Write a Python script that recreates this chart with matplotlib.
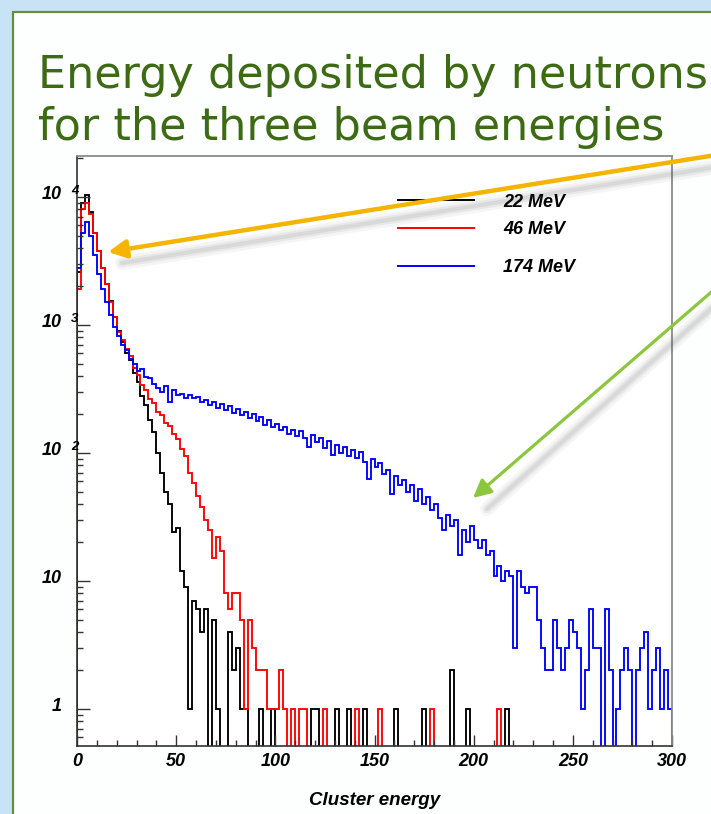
import numpy as np
import matplotlib
matplotlib.use("Agg")
import matplotlib.pyplot as plt
from matplotlib.patches import FancyArrowPatch, Rectangle
from matplotlib.ticker import MultipleLocator, LogLocator, NullFormatter

# cluster energy histograms, 2 units per bin from 0 to 300
bin_width = 2
edges = np.arange(0, 300 + bin_width, bin_width)

counts_22 = [
    2600, 9000, 10400, 7600, 5200, 3800, 2800, 2100, 1550, 1150,
    900, 740, 600, 530, 420, 360, 280, 235, 180, 145,
    100, 70, 50, 40, 24, 26, 12, 9, 1, 7,
    6, 4, 6, 0, 5, 1, 0, 0, 4, 2,
    3, 1, 1, 0, 0, 0, 1, 0, 0, 1,
    0, 0, 0, 0, 0, 0, 0, 0, 0, 1,
    1, 0, 0, 0, 0, 1, 0, 0, 1, 0,
    0, 0, 1, 0, 0, 0, 0, 0, 0, 0,
    1, 0, 0, 0, 0, 0, 0, 1, 0, 0,
    0, 0, 0, 0, 2, 0, 0, 0, 1, 0,
    0, 0, 0, 0, 0, 0, 0, 0, 1, 0,
    0, 0, 0, 0, 0, 0, 0, 0, 0, 0,
    0, 0, 0, 0, 0, 0, 0, 0, 0, 0,
    0, 0, 0, 0, 0, 0, 0, 0, 0, 0,
    0, 0, 0, 0, 0, 0, 0, 0, 0, 0,
]

counts_46 = [
    1900, 8000, 8900, 7400, 5200, 3800, 2800, 2100, 1500, 1150,
    880, 770, 650, 570, 460, 410, 340, 310, 262, 245,
    210, 198, 170, 163, 140, 128, 108, 95, 70, 58,
    46, 38, 30, 25, 15, 22, 17, 8, 6, 8,
    8, 5, 1, 5, 3, 2, 2, 2, 1, 1,
    1, 2, 1, 0, 1, 0, 1, 1, 0, 0,
    0, 0, 1, 0, 0, 0, 0, 0, 0, 0,
    1, 0, 0, 0, 0, 0, 1, 0, 0, 0,
    0, 0, 0, 0, 0, 0, 0, 0, 0, 1,
    0, 0, 0, 0, 0, 0, 0, 0, 0, 0,
    0, 0, 0, 0, 0, 0, 1, 0, 0, 0,
    0, 0, 0, 0, 0, 0, 0, 0, 0, 0,
    0, 0, 0, 0, 0, 0, 0, 0, 0, 0,
    0, 0, 0, 0, 0, 0, 0, 0, 0, 0,
    0, 0, 0, 0, 0, 0, 0, 0, 0, 0,
]

counts_174 = [
    2800, 5200, 6400, 5000, 3500, 2500, 1900, 1500, 1200, 970,
    820, 700, 640, 540, 500, 440, 450, 390, 385, 345,
    320, 300, 335, 250, 310, 285, 290, 270, 285, 268,
    275, 250, 258, 238, 252, 226, 240, 215, 232, 205,
    222, 198, 210, 188, 203, 178, 192, 165, 180, 160,
    168, 150, 160, 140, 152, 135, 148, 130, 112, 138,
    122, 130, 110, 124, 96, 115, 100, 112, 95, 105,
    92, 102, 85, 63, 90, 78, 84, 68, 74, 48,
    66, 56, 62, 50, 56, 42, 52, 40, 45, 36,
    40, 31, 25, 33, 27, 30, 16, 25, 20, 27,
    21, 18, 21, 16, 17, 11, 13, 10, 12, 11,
    3, 12, 9, 8, 9, 9, 5, 3, 2, 2,
    5, 3, 2, 3, 5, 4, 3, 1, 2, 6,
    3, 3, 0, 6, 2, 0, 1, 2, 3, 2,
    0, 2, 3, 4, 1, 2, 3, 1, 2, 1,
]

series = [counts_22, counts_46, counts_174]
labels = ["22 MeV", "46 MeV", "174 MeV"]
colors = ["black", "#ff0000", "#0000ff"]

x_ticks = [0, 50, 100, 150, 200, 250, 300]
y_ticks = [1, 10, 100, 1000, 10000]
y_bases = ["1", "10", "10", "10", "10"]
y_powers = ["", "", "2", "3", "4"]

W, H = 711, 814
title_color = "#3d6b14"
root_font = dict(family="Liberation Sans", weight="bold", style="italic")

fig = plt.figure(figsize=(W / 100, H / 100), dpi=100, facecolor="#c8e3f6")

# slide panel with green border
panel = Rectangle((13 / W, -0.1), 1.2, 1 - 12 / H + 0.1, transform=fig.transFigure,
                  facecolor="#fdfefe", edgecolor="#6a8c3a", lw=1.6, zorder=-10)
fig.patches.append(panel)

fig.text(38 / W, 1 - 88 / H, "Energy deposited by neutrons", fontsize=32,
         color=title_color, va="baseline", ha="left")
fig.text(38 / W, 1 - 140 / H, "for the three beam energies", fontsize=32,
         color=title_color, va="baseline", ha="left")

ax = fig.add_axes([77 / W, 1 - 746 / H, (672 - 77) / W, (746 - 156) / H])
ax.set_facecolor("white")
ax.set_yscale("log")
ax.set_xlim(0, 300)
ax.set_ylim(0.514, 2.09e4)

floor = 0.05
for counts, color in zip(series, colors):
    c = np.asarray(counts, dtype=float)
    c = np.where(c > 0, c, floor)
    ax.stairs(c, edges, baseline=floor, color=color, lw=1.35)

# legend drawn ROOT-style without a box
leg_y = [0.925, 0.878, 0.8136]
for y, lab, color in zip(leg_y, labels, colors):
    ax.plot([0.539, 0.667], [y, y], transform=ax.transAxes, color=color, lw=1.4)
    ax.text(0.716, y - 0.003, lab, transform=ax.transAxes, ha="left", va="center",
            fontsize=13, **root_font)

# axes in ROOT style
for side in ["top", "right"]:
    ax.spines[side].set_color("#8a8a8a")
    ax.spines[side].set_linewidth(1.3)
for side in ["left", "bottom"]:
    ax.spines[side].set_color("#333333")
    ax.spines[side].set_linewidth(1.2)

ax.set_xticks(x_ticks)
ax.xaxis.set_minor_locator(MultipleLocator(10))
ax.set_xticklabels([str(t) for t in x_ticks], fontsize=13, **root_font)
ax.tick_params(axis="x", which="major", direction="in", length=8, width=1, pad=5,
               color="#333333")
ax.tick_params(axis="x", which="minor", direction="in", length=4, width=1,
               color="#333333")

ax.set_yticks(y_ticks)
ax.yaxis.set_minor_locator(LogLocator(base=10, subs=np.arange(2, 10)))
ax.yaxis.set_minor_formatter(NullFormatter())
ax.set_yticklabels([])
ax.tick_params(axis="y", which="major", direction="in", length=9, width=1,
               color="#333333")
ax.tick_params(axis="y", which="minor", direction="in", length=4.5, width=1,
               color="#333333")

for v, base, power in zip(y_ticks, y_bases, y_powers):
    ax.annotate(base, xy=(0, v), xycoords=("axes fraction", "data"),
                xytext=(-11, 1.5), textcoords="offset points",
                ha="right", va="center", fontsize=13, **root_font)
    if power:
        ax.annotate(power, xy=(0, v), xycoords=("axes fraction", "data"),
                    xytext=(-4.5, 2.5), textcoords="offset points",
                    ha="left", va="baseline", fontsize=9.5, **root_font)

ax.set_xlabel("Cluster energy", fontsize=13.5, labelpad=16, **root_font)


def px(x, y):
    return (x / W, 1 - y / H)


def pointer(start, tip, color, lw):
    # soft drop shadow under the arrow
    sx, sy = start
    tx, ty = tip
    for width, alpha in [(10, 0.05), (6, 0.07), (3, 0.09)]:
        fig.lines.append(plt.Line2D([px(sx + 6, sy + 11)[0], px(tx + 14, ty + 11)[0]],
                                    [px(sx + 6, sy + 11)[1], px(tx + 14, ty + 11)[1]],
                                    transform=fig.transFigure, color="#444444",
                                    lw=width, alpha=alpha, solid_capstyle="round",
                                    zorder=9))
    arrow = FancyArrowPatch(px(*start), px(*tip), transform=fig.transFigure,
                            arrowstyle="-|>,head_length=0.9,head_width=0.45",
                            mutation_scale=12, lw=lw, color=color,
                            shrinkA=0, shrinkB=0, zorder=10)
    fig.patches.append(arrow)


pointer((716, 155), (108, 252), "#f5b400", 3.2)
pointer((716, 288), (473, 498), "#8cc63f", 2.3)

fig.savefig("out.png", dpi=100, facecolor=fig.get_facecolor())
